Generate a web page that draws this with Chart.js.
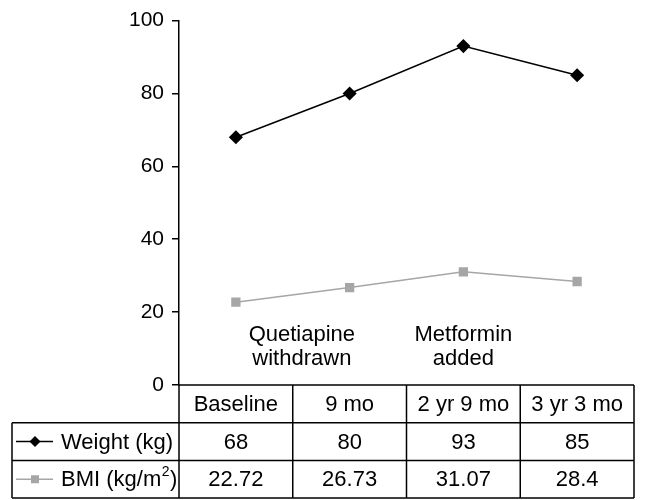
<!DOCTYPE html>
<html>
<head>
<meta charset="utf-8">
<script src="https://cdn.jsdelivr.net/npm/chart.js@4"></script>
<style>
  body { margin: 0; background: #fff; }
  canvas { display: block; }
</style>
</head>
<body>
<canvas id="chart" width="648" height="500"></canvas>
<script>
const periods = ["Baseline", "9 mo", "2 yr 9 mo", "3 yr 3 mo"];
const weightKg = [68, 80, 93, 85];
const bmiValues = [22.72, 26.73, 31.07, 28.4];
// label parts: [text, superscript, tail]
const rowLabels = [["Weight (kg)", "", ""], ["BMI (kg/m", "2", ")"]];
const yTicks = [0, 20, 40, 60, 80, 100];
const noteTexts = [["Quetiapine", "withdrawn"], ["Metformin", "added"]];
const noteAt = [0.58, 2];

const FONT = "'Liberation Sans', Arial, sans-serif";
const GREY = "#a6a6a6";

const tablePlugin = {
    id: "tablePlugin",
    afterDraw(chart) {
        const ctx = chart.ctx;
        const area = chart.chartArea;
        const x = chart.scales.x;
        const rowH = 37.7;
        const labelLeft = 12;
        const top = area.bottom;
        const edges = [area.left];
        for (let i = 0; i < periods.length; i++) {
            edges.push(area.left + (area.right - area.left) * (i + 1) / periods.length);
        }

        ctx.save();
        ctx.strokeStyle = "#000";
        ctx.lineWidth = 1.5;

        // grid of the table
        ctx.beginPath();
        ctx.moveTo(area.left, top);
        ctx.lineTo(area.right, top);
        for (let r = 1; r <= 3; r++) {
            const y = top + rowH * r;
            ctx.moveTo(labelLeft, y);
            ctx.lineTo(area.right, y);
        }
        edges.forEach(ex => {
            ctx.moveTo(ex, top);
            ctx.lineTo(ex, top + rowH * 3);
        });
        ctx.moveTo(labelLeft, top + rowH);
        ctx.lineTo(labelLeft, top + rowH * 3);
        ctx.stroke();

        ctx.fillStyle = "#000";
        ctx.font = "22px " + FONT;
        ctx.textAlign = "center";
        ctx.textBaseline = "middle";

        const rows = [periods, weightKg.map(String), bmiValues.map(String)];
        rows.forEach((cells, r) => {
            const cy = top + rowH * r + rowH / 2 + 1;
            cells.forEach((txt, i) => {
                ctx.fillText(txt, x.getPixelForValue(i), cy);
            });
        });

        // row labels with legend keys
        const keys = [
            { color: "#000", style: "diamond" },
            { color: GREY, style: "square" }
        ];
        rowLabels.forEach((parts, r) => {
            const cy = top + rowH * (r + 1) + rowH / 2;
            const k = keys[r];
            ctx.strokeStyle = k.color;
            ctx.fillStyle = k.color;
            ctx.lineWidth = 1.5;
            ctx.beginPath();
            ctx.moveTo(16, cy);
            ctx.lineTo(53, cy);
            ctx.stroke();
            ctx.beginPath();
            if (k.style === "diamond") {
                ctx.moveTo(35, cy - 5.5);
                ctx.lineTo(40.5, cy);
                ctx.lineTo(35, cy + 5.5);
                ctx.lineTo(29.5, cy);
                ctx.closePath();
            } else {
                ctx.rect(31, cy - 4, 8, 8);
            }
            ctx.fill();
            ctx.fillStyle = "#000";
            ctx.textAlign = "left";
            let tx = 61;
            ctx.font = "22px " + FONT;
            ctx.fillText(parts[0], tx, cy + 1);
            tx += ctx.measureText(parts[0]).width;
            if (parts[1]) {
                ctx.font = "14px " + FONT;
                ctx.fillText(parts[1], tx + 0.5, cy - 7);
                tx += ctx.measureText(parts[1]).width + 1;
                ctx.font = "22px " + FONT;
                ctx.fillText(parts[2], tx, cy + 1);
            }
        });

        // annotations
        ctx.font = "22px " + FONT;
        ctx.textAlign = "center";
        noteTexts.forEach((lines, n) => {
            const pos = noteAt[n];
            const i0 = Math.floor(pos);
            const p0 = x.getPixelForValue(i0);
            const p1 = x.getPixelForValue(Math.min(i0 + 1, periods.length - 1));
            const cx = p0 + (p1 - p0) * (pos - i0);
            lines.forEach((line, j) => {
                ctx.fillText(line, cx, area.bottom - 50 + j * 24);
            });
        });
        ctx.restore();
    }
};

new Chart(document.getElementById("chart").getContext("2d"), {
    type: "line",
    data: {
        labels: periods,
        datasets: [
            {
                label: rowLabels[0][0],
                data: weightKg,
                borderColor: "#000",
                backgroundColor: "#000",
                borderWidth: 1.5,
                pointStyle: "rectRot",
                pointRadius: 6,
                pointHoverRadius: 6,
                tension: 0
            },
            {
                label: "BMI",
                data: bmiValues,
                borderColor: GREY,
                backgroundColor: GREY,
                borderWidth: 1.5,
                pointStyle: "rect",
                pointRadius: 5.5,
                pointHoverRadius: 5.5,
                tension: 0
            }
        ]
    },
    options: {
        responsive: false,
        animation: false,
        layout: { padding: { left: 0, right: 14, top: 20, bottom: 115 } },
        plugins: {
            legend: { display: false },
            tooltip: { enabled: false }
        },
        scales: {
            x: {
                type: "category",
                offset: true,
                display: false
            },
            y: {
                min: yTicks[0],
                max: yTicks[yTicks.length - 1],
                afterFit(scale) { scale.width = 179; },
                afterBuildTicks(scale) { scale.ticks = yTicks.map(v => ({ value: v })); },
                ticks: {
                    color: "#000",
                    font: { family: FONT, size: 21 },
                    padding: 8
                },
                grid: {
                    drawOnChartArea: false,
                    drawTicks: true,
                    tickLength: 7,
                    color: "#000",
                    lineWidth: 1.5
                },
                border: { display: true, color: "#000", width: 1.5 }
            }
        }
    },
    plugins: [tablePlugin]
});
</script>
</body>
</html>
